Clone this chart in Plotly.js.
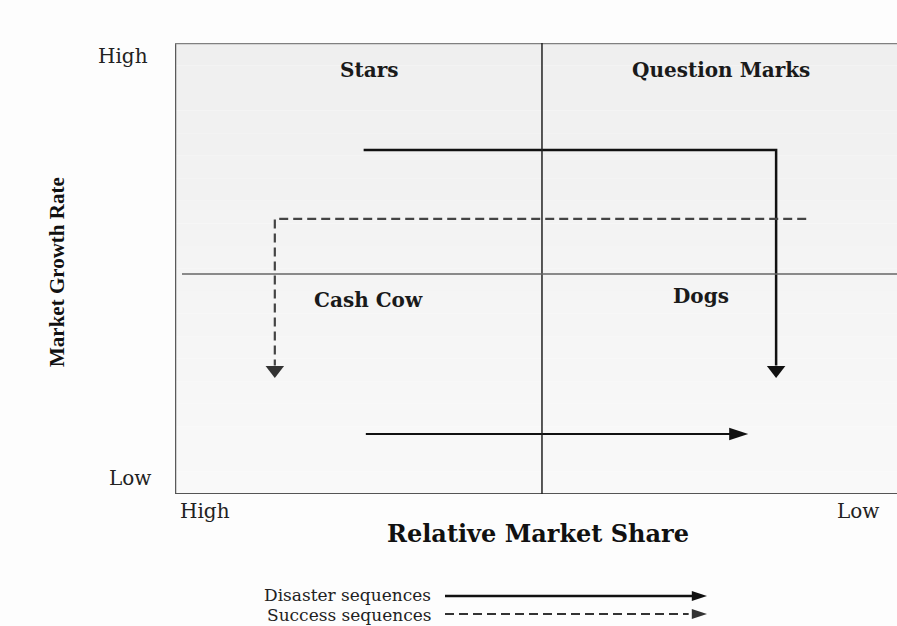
<!DOCTYPE html>
<html><head><meta charset="utf-8">
<script src="https://cdn.plot.ly/plotly-3.0.1.min.js"></script>
<style>html,body{margin:0;padding:0;background:#fdfdfd;overflow:hidden}</style>
</head><body><div id="chart" style="width:897px;height:626px"></div>
<script>
// ---- data (x: relative market share scale, divider at 50; y: growth scale, divider at 48.8) ----
const quadrantNames = ["Stars", "Question Marks", "Cash Cow", "Dogs"];
const quadrantX = [26.4, 74.4, 26.4, 71.6];
const quadrantY = [94.1, 94.1, 43.1, 43.8];

const disasterTopX = [25.7, 81.9, 81.9];
const disasterTopY = [76.3, 76.3, 28.5];
const disasterTopHeadX = [81.9];
const disasterTopHeadY = [27.5];

const disasterBottomX = [26.0, 76.0];
const disasterBottomY = [13.3, 13.3];
const disasterBottomHeadX = [78.1];
const disasterBottomHeadY = [13.3];

const successX = [86.0, 13.6, 13.6];
const successY = [61.0, 61.0, 28.5];
const successHeadX = [13.6];
const successHeadY = [27.5];

const xDivider = 50;
const yDivider = 48.8;

const axisTickText = {yHigh: "High", yLow: "Low", xHigh: "High", xLow: "Low"};
const legendNames = ["Disaster sequences", "Success sequences"];
const legendLineX = [0, 0.95];
const legendSuccessLineX = [0, 0.93];
const legendDisasterY = [30, 30];
const legendSuccessY = [12, 12];
const legendHeadX = [1.0];

// ---- layout ----
const serif = "DejaVu Serif";
const X0 = 175/897, Y0 = 132/626, Y1 = 583/626;
const nohover = {hoverinfo: "skip"};

const traces = [
  Object.assign({x: disasterTopX, y: disasterTopY, mode: "lines", line: {color: "#111", width: 2.5}}, nohover),
  Object.assign({x: disasterTopHeadX, y: disasterTopHeadY, mode: "markers", cliponaxis: false,
   marker: {symbol: "triangle-down", size: 16, color: "#111", line: {width: 0}}}, nohover),
  Object.assign({x: disasterBottomX, y: disasterBottomY, mode: "lines", line: {color: "#111", width: 2}}, nohover),
  Object.assign({x: disasterBottomHeadX, y: disasterBottomHeadY, mode: "markers", cliponaxis: false,
   marker: {symbol: "arrow", angle: 90, size: 20, color: "#111", line: {width: 0}}}, nohover),
  Object.assign({x: successX, y: successY, mode: "lines", line: {color: "#444", width: 2.2, dash: "9px,5px"}}, nohover),
  Object.assign({x: successHeadX, y: successHeadY, mode: "markers", cliponaxis: false,
   marker: {symbol: "triangle-down", size: 16, color: "#333", line: {width: 0}}}, nohover),
  // legend samples
  Object.assign({x: legendLineX, y: legendDisasterY, xaxis: "x2", yaxis: "y2", mode: "lines", line: {color: "#111", width: 2.5}}, nohover),
  Object.assign({x: legendHeadX, y: [legendDisasterY[0]], xaxis: "x2", yaxis: "y2", mode: "markers", cliponaxis: false,
   marker: {symbol: "arrow", angle: 90, size: 16, color: "#111", line: {width: 0}}}, nohover),
  Object.assign({x: legendSuccessLineX, y: legendSuccessY, xaxis: "x2", yaxis: "y2", mode: "lines", line: {color: "#333", width: 2, dash: "9px,5px"}}, nohover),
  Object.assign({x: legendHeadX, y: [legendSuccessY[0]], xaxis: "x2", yaxis: "y2", mode: "markers", cliponaxis: false,
   marker: {symbol: "arrow", angle: 90, size: 16, color: "#333", line: {width: 0}}}, nohover)
];

// gradient background bands
const shapes = [];
const nb = 20;
for (let i = 0; i < nb; i++) {
  const t = i / (nb - 1);
  const c = Math.round(0xef + (0xf9 - 0xef) * t);
  const col = `rgb(${c},${c},${c})`;
  shapes.push({type: "rect", xref: "x", yref: "y", layer: "below", line: {width: 0}, fillcolor: col,
    x0: 0, x1: 98.37, y0: 100 - (i + 1) * 100 / nb, y1: 100 - i * 100 / nb});
}
// frame
shapes.push({type: "line", xref: "x", yref: "y", x0: 0, x1: 0, y0: 0, y1: 100, line: {color: "#5a5a5a", width: 2.5}});
shapes.push({type: "line", xref: "x", yref: "y", x0: 0, x1: 98.37, y0: 100, y1: 100, line: {color: "#808080", width: 2.5}});
shapes.push({type: "line", xref: "x", yref: "y", x0: 0, x1: 98.37, y0: 0, y1: 0, line: {color: "#555", width: 2}});
// dividers
shapes.push({type: "line", xref: "x", yref: "y", x0: xDivider, x1: xDivider, y0: 0, y1: 100, line: {color: "#222", width: 1.5}});
shapes.push({type: "line", xref: "x", yref: "y", x0: 0.95, x1: 98.37, y0: yDivider, y1: yDivider, line: {color: "#666", width: 1.5}});

const annotations = [];
quadrantNames.forEach((n, i) => annotations.push({
  x: quadrantX[i], y: quadrantY[i], xref: "x", yref: "y", text: n, showarrow: false,
  xanchor: "center", yanchor: "middle",
  font: {family: serif, size: 20, color: "#1a1a1a", weight: "bold"}
}));
const pa = (text, x, y, font, extra) => Object.assign({text, x, y, xref: "paper", yref: "paper", showarrow: false,
  xanchor: "center", yanchor: "middle", font}, extra || {});
const reg = {family: serif, size: 20, color: "#222"};
const legFont = {family: serif, size: 17, color: "#222"};
annotations.push(pa(axisTickText.yHigh, 123/897, 1 - 56/626, reg));
annotations.push(pa(axisTickText.yLow, 130/897, 1 - 478/626, reg));
annotations.push(pa(axisTickText.xHigh, 205/897, 1 - 511/626, reg));
annotations.push(pa(axisTickText.xLow, 858/897, 1 - 511/626, reg));
annotations.push(pa("Relative Market Share", 538/897, 1 - 533/626, {family: serif, size: 24, color: "#111", weight: "bold"}));
annotations.push(pa("Market Growth Rate", 57/897, 1 - 272/626, {family: "Liberation Serif", size: 21, color: "#111", weight: "bold"}, {textangle: -90}));
annotations.push(pa(legendNames[0], 433/897, 1 - 594.5/626, legFont, {xanchor: "right"}));
annotations.push(pa(legendNames[1], 433/897, 1 - 614.5/626, legFont, {xanchor: "right"}));

const layout = {
  width: 897, height: 626,
  margin: {l: 0, r: 0, t: 0, b: 0},
  paper_bgcolor: "#fdfdfd", plot_bgcolor: "rgba(0,0,0,0)",
  showlegend: false,
  xaxis: {domain: [X0, 1], range: [0, 98.37], visible: false, fixedrange: true},
  yaxis: {domain: [Y0, Y1], range: [0, 100], visible: false, fixedrange: true},
  xaxis2: {domain: [445/897, 707/897], range: [0, 1], visible: false, anchor: "y2"},
  yaxis2: {domain: [0, Y0], range: [0, 132], visible: false, anchor: "x2"},
  shapes, annotations
};
Plotly.newPlot("chart", traces, layout, {staticPlot: true});
</script></body></html>
